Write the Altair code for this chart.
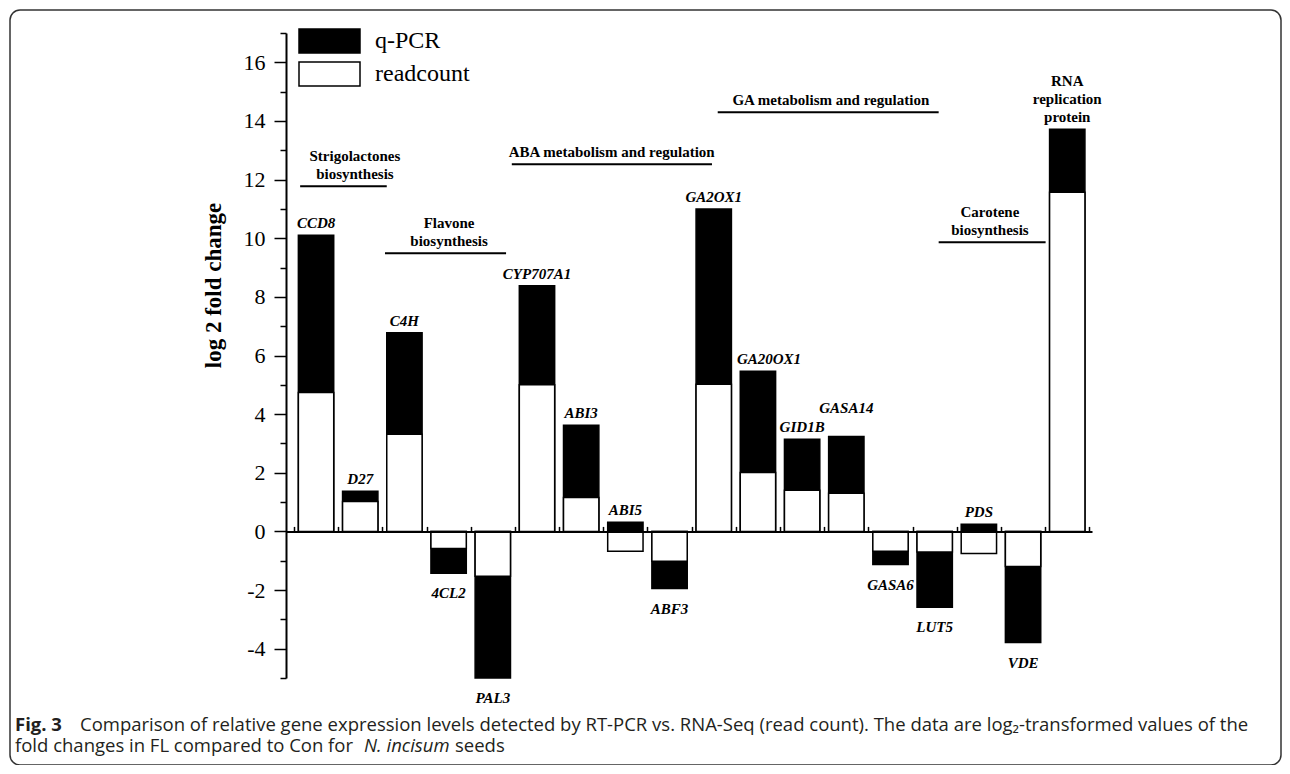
import altair as alt
import pandas as pd

# ---------------- data ----------------
genes = ["CCD8", "D27", "C4H", "4CL2", "PAL3", "CYP707A1", "ABI3", "ABI5", "ABF3",
         "GA2OX1", "GA20OX1", "GID1B", "GASA14", "GASA6", "LUT5", "PDS", "VDE",
         "RNA replication protein"]
qpcr = [10.10, 1.37, 6.78, -1.43, -5.00, 8.38, 3.62, 0.31, -1.95,
        11.00, 5.46, 3.14, 3.24, -1.13, -2.59, 0.24, -3.79, 13.72]
readcount = [4.74, 1.02, 3.31, -0.58, -1.53, 5.00, 1.16, -0.68, -1.02,
             5.02, 2.01, 1.40, 1.30, -0.68, -0.70, -0.75, -1.20, 11.57]
series = ["q-PCR", "readcount"]

group_names = ["Strigolactones\nbiosynthesis", "Flavone\nbiosynthesis",
               "ABA  metabolism and regulation", "GA metabolism and regulation",
               "Carotene\nbiosynthesis"]
group_level = [11.77, 9.49, 12.52, 14.30, 9.86]
group_start = [0.64, 2.56, 5.43, 10.09, 15.09]
group_end = [2.60, 5.30, 9.96, 15.09, 17.51]
group_text_x = [1.88, 4.01, 7.69, 12.65, 16.25]

y_ticks = list(range(-5, 18))

# ---------------- tables ----------------
n = len(genes)
idx = list(range(1, n + 1))
bar_df = pd.DataFrame({
    "gene": genes * 2,
    "idx": idx * 2,
    "series": [series[0]] * n + [series[1]] * n,
    "value": qpcr + readcount,
    "ord": [0] * n + [1] * n,
})
gene_df = pd.DataFrame({"gene": genes, "idx": idx, "qpcr": qpcr})
group_df = pd.DataFrame({"name": group_names, "level": group_level,
                         "start": group_start, "end": group_end, "tx": group_text_x})
one = pd.DataFrame({"a": [0]})

W, H = 806, 645
YMIN, YMAX = -5, 17
SERIF = "Liberation Serif"
SANS = "Open Sans"
LH = 18  # line height of the multi-line annotations

xscale = alt.Scale(domain=[0.32, 18.56], nice=False, zero=False)
yscale = alt.Scale(domain=[YMIN, YMAX], nice=False, zero=False)

# x axis drawn along the zero line (top-oriented so its ticks point upward)
xaxis = alt.Axis(orient="top", offset=-H * YMAX / (YMAX - YMIN), zindex=1,
                 values=[i + 0.5 for i in range(n + 1)], labels=False, title=None,
                 grid=False, tickSize=5, tickWidth=1.5, tickColor="black",
                 domainColor="black", domainWidth=2)
yaxis = alt.Axis(values=y_ticks, title="log 2 fold change", grid=False, zindex=1,
                 labelExpr="datum.value % 2 == 0 ? '' + datum.value : ''",
                 tickSize={"condition": {"test": "datum.value % 2 == 0", "value": 12}, "value": 6},
                 tickWidth=1.5, tickColor="black", domainColor="black", domainWidth=2,
                 labelFont=SERIF, labelFontSize=22, labelColor="black", labelPadding=9,
                 titleFont=SERIF, titleFontSize=23, titleFontWeight="bold", titleColor="black",
                 titleX=-73, titleY=252, titleBaseline="middle")


def X(field):
    return alt.X(field, scale=xscale, axis=xaxis)


def Y(field, **kw):
    return alt.Y(field, scale=yscale, axis=yaxis, **kw)


frame = alt.Chart(one).mark_rect(filled=False, fillOpacity=0, stroke="#333333",
                                 strokeWidth=1.5, cornerRadius=10).encode(
    x=alt.value(-276), x2=alt.value(995), y=alt.value(-23), y2=alt.value(732))

bars = alt.Chart(bar_df).transform_calculate(
    x0="datum.idx - 0.4", x1="datum.idx + 0.4"
).mark_bar(stroke="black", strokeWidth=1.5, opacity=1).encode(
    x=X("x0:Q"),
    x2="x1:Q",
    y=Y("value:Q", stack=None),
    y2=alt.datum(0),
    fill=alt.Fill("series:N", scale=alt.Scale(domain=series, range=["black", "white"]),
                  legend=alt.Legend(orient="none", legendX=12, legendY=-5, title=None,
                                    symbolType="M-1,-0.393L1,-0.393L1,0.393L-1,0.393Z",
                                    symbolSize=3721, symbolStrokeColor="black",
                                    symbolStrokeWidth=1.5, symbolOpacity=1,
                                    clipHeight=26, rowPadding=7, padding=0, symbolOffset=0,
                                    labelFont=SERIF, labelFontSize=24, labelColor="black",
                                    labelOffset=14, labelLimit=300)),
    order=alt.Order("ord:Q"),
)

# small label nudges so crowded names do not collide (as in the original figure)
label_dx = "datum.gene == 'GA20OX1' ? 0.25 : 0"
label_up = "datum.gene == 'GASA14' ? 0.55 : 0"

pos_labels = alt.Chart(gene_df).transform_filter(
    "datum.qpcr > 0 && datum.idx < %d" % n
).transform_calculate(
    lx="datum.idx + (" + label_dx + ")", ly="datum.qpcr + (" + label_up + ")"
).mark_text(font=SERIF, fontSize=15, fontStyle="italic", fontWeight="bold",
            baseline="alphabetic", dy=-7, color="black").encode(
    x=X("lx:Q"), y=Y("ly:Q"), text="gene:N")

neg_labels = alt.Chart(gene_df).transform_filter("datum.qpcr < 0").mark_text(
    font=SERIF, fontSize=15, fontStyle="italic", fontWeight="bold",
    baseline="top", dy=13, color="black").encode(x=X("idx:Q"), y=Y("qpcr:Q"), text="gene:N")

rna_label = alt.Chart(gene_df).transform_filter("datum.idx == %d" % n).transform_calculate(
    lab="replace(datum.gene, / /g, '\\n')"
).mark_text(font=SERIF, fontSize=15, fontWeight="bold", baseline="bottom",
            dy=-4 - 2 * LH, lineBreak="\n", lineHeight=LH, color="black").encode(
    x=X("idx:Q"), y=Y("qpcr:Q"), text="lab:N")

group_rules = alt.Chart(group_df).mark_rule(color="black", strokeWidth=2).encode(
    x=X("start:Q"), x2="end:Q", y=Y("level:Q"))

group_text_2 = alt.Chart(group_df).transform_filter(
    "indexof(datum.name, '\\n') >= 0").mark_text(
    font=SERIF, fontSize=15, fontWeight="bold", baseline="bottom", dy=-4 - LH,
    lineBreak="\n", lineHeight=LH, color="black").encode(
    x=X("tx:Q"), y=Y("level:Q"), text="name:N")

group_text_1 = alt.Chart(group_df).transform_filter(
    "indexof(datum.name, '\\n') < 0").mark_text(
    font=SERIF, fontSize=15, fontWeight="bold", baseline="bottom", dy=-4,
    color="black").encode(
    x=X("tx:Q"), y=Y("level:Q"), text="name:N")

CAP = "#231f20"
CFS = 18.5
cap1a = alt.Chart(one).mark_text(text="Fig. 3", font=SANS, fontSize=CFS, fontWeight="bold",
                                 align="left", baseline="alphabetic", color=CAP).encode(
    x=alt.value(-271), y=alt.value(698))
cap1b = alt.Chart(one).mark_text(
    text="Comparison of relative gene expression levels detected by RT-PCR vs. RNA-Seq (read count). The data are log\u2082-transformed values of the",
    font=SANS, fontSize=CFS, align="left", baseline="alphabetic", color=CAP).encode(
    x=alt.value(-206), y=alt.value(698))
cap2a = alt.Chart(one).mark_text(text="fold changes in FL compared to Con for",
                                 font=SANS, fontSize=CFS, align="left", baseline="alphabetic",
                                 color=CAP).encode(x=alt.value(-271), y=alt.value(719))
cap2b = alt.Chart(one).mark_text(text="N. incisum", font=SANS, fontSize=CFS, fontStyle="italic",
                                 align="left", baseline="alphabetic", color=CAP).encode(
    x=alt.value(78), y=alt.value(719))
cap2c = alt.Chart(one).mark_text(text="seeds", font=SANS, fontSize=CFS, align="left",
                                 baseline="alphabetic", color=CAP).encode(
    x=alt.value(169), y=alt.value(719))

chart = alt.layer(
    bars, frame, pos_labels, neg_labels, rna_label, group_rules, group_text_2, group_text_1,
    cap1a, cap1b, cap2a, cap2b, cap2c
).properties(
    width=W, height=H,
    autosize=alt.AutoSizeParams(type="none"),
    padding={"left": 278, "top": 25, "right": 1274 - 278 - W, "bottom": 757 - 25 - H},
    background="white",
).configure_view(stroke=None)

chart.save("out.html", embed_options={"renderer": "svg", "actions": False})
